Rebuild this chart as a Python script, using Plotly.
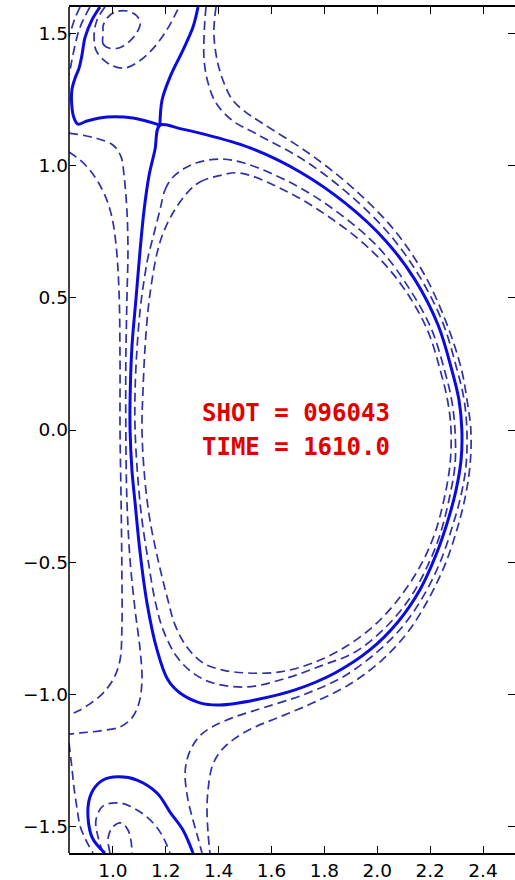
import plotly.graph_objects as go

# ---------------- data (R, Z) ----------------
# solid separatrix (last closed flux surface)
lcfs = [(1.178, 1.153), (1.254, 1.140), (1.329, 1.123), (1.519, 1.067), (1.708, 0.976), (1.878, 0.859),
        (2.029, 0.719), (2.143, 0.568), (2.230, 0.397), (2.282, 0.227), (2.309, 0.114),
        (2.320, 0.000),
        (2.317, -0.113), (2.298, -0.227), (2.268, -0.340), (2.222, -0.473), (2.161, -0.605),
        (2.078, -0.726), (1.972, -0.832), (1.840, -0.919), (1.689, -0.983), (1.537, -1.021),
        (1.405, -1.040), (1.329, -1.032), (1.254, -0.995), (1.208, -0.945), (1.167, -0.832),
        (1.129, -0.654), (1.103, -0.465), (1.084, -0.276), (1.072, -0.151), (1.065, 0.000),
        (1.065, 0.113), (1.072, 0.314), (1.087, 0.492), (1.103, 0.681), (1.118, 0.832),
        (1.137, 0.964), (1.159, 1.059), (1.178, 1.153)]
upper_leg = [(1.178, 1.153), (1.186, 1.248), (1.216, 1.335), (1.265, 1.437), (1.303, 1.524), (1.322, 1.600)]
left_leg = [(1.178, 1.153), (1.076, 1.180), (0.978, 1.184), (0.902, 1.169), (0.868, 1.157),
            (0.853, 1.180), (0.845, 1.222), (0.845, 1.286), (0.857, 1.331), (0.872, 1.369),
            (0.883, 1.418), (0.895, 1.486), (0.921, 1.551), (0.951, 1.600)]
lower_sep = [(0.970, -1.600), (0.921, -1.540), (0.906, -1.426), (0.925, -1.362), (0.963, -1.324),
             (1.019, -1.312), (1.091, -1.324), (1.167, -1.373), (1.216, -1.445), (1.265, -1.513),
             (1.303, -1.600)]

# dashed flux surfaces inside the separatrix
inner1 = [(1.178, 0.832), (1.197, 0.908), (1.224, 0.953), (1.273, 0.991), (1.329, 1.014),
          (1.405, 1.025), (1.496, 1.010), (1.681, 0.931), (1.848, 0.825), (2.003, 0.692),
          (2.112, 0.549), (2.203, 0.386), (2.256, 0.220), (2.282, 0.110),
          (2.294, 0.000), (2.294, -0.132), (2.271, -0.265), (2.237, -0.397), (2.192, -0.510),
          (2.124, -0.635), (2.029, -0.749), (1.916, -0.840), (1.795, -0.889), (1.658, -0.938),
          (1.507, -0.972), (1.379, -0.957), (1.303, -0.919), (1.242, -0.858), (1.190, -0.756),
          (1.159, -0.643), (1.133, -0.492), (1.110, -0.340), (1.095, -0.189), (1.084, 0.000),
          (1.084, 0.151), (1.091, 0.303), (1.103, 0.454), (1.118, 0.567), (1.133, 0.654),
          (1.152, 0.730), (1.178, 0.832)]
inner2 = [(1.280, 0.896), (1.329, 0.938), (1.398, 0.961), (1.481, 0.972), (1.662, 0.900),
          (1.829, 0.798), (1.980, 0.677), (2.097, 0.541), (2.188, 0.382), (2.241, 0.216),
          (2.267, 0.106), (2.279, 0.000), (2.275, -0.132), (2.252, -0.265),
          (2.218, -0.390), (2.169, -0.503), (2.097, -0.617), (2.003, -0.726), (1.885, -0.817),
          (1.757, -0.881), (1.632, -0.915), (1.507, -0.919), (1.416, -0.908), (1.341, -0.881),
          (1.280, -0.821), (1.235, -0.737), (1.208, -0.643), (1.171, -0.492), (1.140, -0.340),
          (1.121, -0.189), (1.110, 0.000), (1.114, 0.151), (1.121, 0.303), (1.133, 0.454),
          (1.148, 0.567), (1.167, 0.669), (1.190, 0.745), (1.227, 0.821), (1.280, 0.896)]

# dashed flux surfaces outside the separatrix (scrape-off layer)
sol_c = [(1.352, 1.600), (1.345, 1.494), (1.345, 1.399), (1.360, 1.313), (1.390, 1.237),
         (1.454, 1.169), (1.537, 1.123), (1.727, 1.018), (1.901, 0.885), (2.048, 0.738),
         (2.161, 0.579), (2.248, 0.405), (2.301, 0.231), (2.328, 0.117),
         (2.339, 0.000), (2.336, -0.132), (2.317, -0.246), (2.286, -0.359),
         (2.241, -0.492), (2.181, -0.617), (2.101, -0.737), (1.999, -0.840), (1.870, -0.934),
         (1.719, -1.002), (1.568, -1.051), (1.462, -1.085), (1.375, -1.123), (1.329, -1.157),
         (1.299, -1.199), (1.280, -1.248), (1.273, -1.305), (1.284, -1.399), (1.303, -1.475),
         (1.322, -1.543), (1.337, -1.600)]
sol_d = [(1.390, 1.600), (1.382, 1.502), (1.394, 1.400), (1.416, 1.324), (1.450, 1.252),
         (1.496, 1.207), (1.564, 1.161), (1.745, 1.044), (1.916, 0.908), (2.067, 0.753),
         (2.177, 0.590), (2.260, 0.409), (2.317, 0.235), (2.339, 0.117),
         (2.354, 0.000), (2.351, -0.132), (2.332, -0.257), (2.301, -0.378),
         (2.256, -0.510), (2.192, -0.643), (2.116, -0.764), (2.018, -0.870), (1.897, -0.961),
         (1.757, -1.032), (1.632, -1.085), (1.530, -1.127), (1.454, -1.172), (1.405, -1.218),
         (1.375, -1.274), (1.360, -1.361), (1.356, -1.437), (1.360, -1.524), (1.367, -1.600)]
sol_a = [(0.834, 1.052), (0.876, 1.021), (0.913, 0.983), (0.944, 0.938), (0.974, 0.878),
         (0.997, 0.802), (1.012, 0.700), (1.023, 0.530), (1.027, 0.265), (1.027, 0.000),
         (1.031, -0.265), (1.034, -0.529), (1.034, -0.756), (1.027, -0.870), (1.004, -0.938),
         (0.963, -0.995), (0.913, -1.036), (0.868, -1.063), (0.834, -1.078)]
sol_b = [(0.834, 1.123), (0.932, 1.105), (1.000, 1.078), (1.031, 1.033), (1.042, 0.964),
         (1.053, 0.832), (1.057, 0.681), (1.053, 0.492), (1.049, 0.265), (1.049, 0.000),
         (1.053, -0.265), (1.065, -0.492), (1.084, -0.681), (1.103, -0.832), (1.110, -0.945),
         (1.099, -1.032), (1.072, -1.089), (1.027, -1.123), (0.951, -1.138), (0.876, -1.146),
         (0.834, -1.150)]
sol_e = [(0.834, -1.184), (0.845, -1.278), (0.853, -1.354), (0.864, -1.429), (0.876, -1.498),
         (0.898, -1.551), (0.925, -1.600)]
edge_l1 = [(0.876, 1.600), (0.857, 1.558), (0.842, 1.513), (0.834, 1.487)]
edge_l2 = [(0.913, 1.600), (0.891, 1.558), (0.872, 1.513), (0.857, 1.456), (0.845, 1.399),
           (0.838, 1.362), (0.834, 1.343)]

# dashed private-flux contours
upper_p1 = [(0.963, 1.502), (0.963, 1.460), (0.985, 1.445), (1.023, 1.445), (1.061, 1.468),
            (1.087, 1.498), (1.103, 1.536), (1.091, 1.566), (1.053, 1.585), (1.008, 1.581),
            (0.978, 1.558), (0.963, 1.528), (0.963, 1.502)]
upper_p2 = [(0.970, 1.600), (0.940, 1.551), (0.929, 1.494), (0.936, 1.437), (0.966, 1.399),
            (1.000, 1.377), (1.046, 1.369), (1.095, 1.392), (1.140, 1.430), (1.178, 1.475),
            (1.208, 1.520), (1.231, 1.562), (1.250, 1.600)]
lower_p1 = [(0.963, -1.600), (0.944, -1.540), (0.936, -1.475), (0.963, -1.422), (1.027, -1.411),
            (1.091, -1.437), (1.152, -1.486), (1.190, -1.540), (1.216, -1.600)]
lower_p2 = [(0.989, -1.600), (0.982, -1.543), (1.000, -1.501), (1.031, -1.486), (1.057, -1.513),
            (1.069, -1.558), (1.072, -1.600)]

solid_curves = [lcfs, upper_leg, left_leg, lower_sep]
dashed_curves = [inner1, inner2, sol_c, sol_d, sol_a, sol_b, sol_e, edge_l1, edge_l2,
                 upper_p1, upper_p2, lower_p1, lower_p2]

x_ticks = [1.0, 1.2, 1.4, 1.6, 1.8, 2.0, 2.2, 2.4]
y_ticks = [-1.5, -1.0, -0.5, 0.0, 0.5, 1.0, 1.5]
x_range = [0.834, 2.521]
y_range = [-1.6, 1.6]

shot_label = "SHOT = 096043"
time_label = "TIME = 1610.0"
label_r = 1.329
label_z = [0.063, -0.063]

# ---------------- figure ----------------
SOLID = "#0b0be0"
DASHC = "#3030a8"

fig = go.Figure()
for c in dashed_curves:
    fig.add_trace(go.Scatter(
        x=[p[0] for p in c], y=[p[1] for p in c], mode="lines",
        line=dict(color=DASHC, width=1.7, dash="9px,5px", shape="spline", smoothing=1.0),
        hoverinfo="skip", showlegend=False))
for c in solid_curves:
    fig.add_trace(go.Scatter(
        x=[p[0] for p in c], y=[p[1] for p in c], mode="lines",
        line=dict(color=SOLID, width=3, shape="spline", smoothing=1.0),
        hoverinfo="skip", showlegend=False))

for txt, z in zip([shot_label, time_label], label_z):
    fig.add_annotation(x=label_r, y=z, xref="x", yref="y", text="<b>" + txt + "</b>",
                       showarrow=False, xanchor="left", yanchor="middle",
                       font=dict(family="DejaVu Sans Mono", size=24, color="#e00000"))

tick_font = dict(family="DejaVu Sans", size=18.5, color="black")
fig.update_layout(
    width=515, height=880, autosize=False,
    margin=dict(l=69, r=0, t=7, b=27, pad=0),
    paper_bgcolor="white", plot_bgcolor="white",
    xaxis=dict(range=x_range, tickvals=x_ticks, ticktext=["%.1f" % v for v in x_ticks],
               ticks="inside", ticklen=7, tickwidth=1, tickcolor="black",
               showline=True, linecolor="black", linewidth=1.5, mirror="ticks",
               showgrid=False, zeroline=False, tickfont=tick_font),
    yaxis=dict(range=y_range, tickvals=y_ticks,
               ticktext=[("\u2212%.1f" % -v) if v < 0 else ("%.1f" % v) for v in y_ticks],
               ticks="inside", ticklen=7, tickwidth=1, tickcolor="black",
               showline=False, mirror="ticks",
               showgrid=False, zeroline=False, tickfont=tick_font),
    shapes=[dict(type="line", xref="paper", yref="paper", x0=0, x1=0, y0=0, y1=1,
                 line=dict(color="black", width=1.5))],
)

fig.write_html("out.html")
